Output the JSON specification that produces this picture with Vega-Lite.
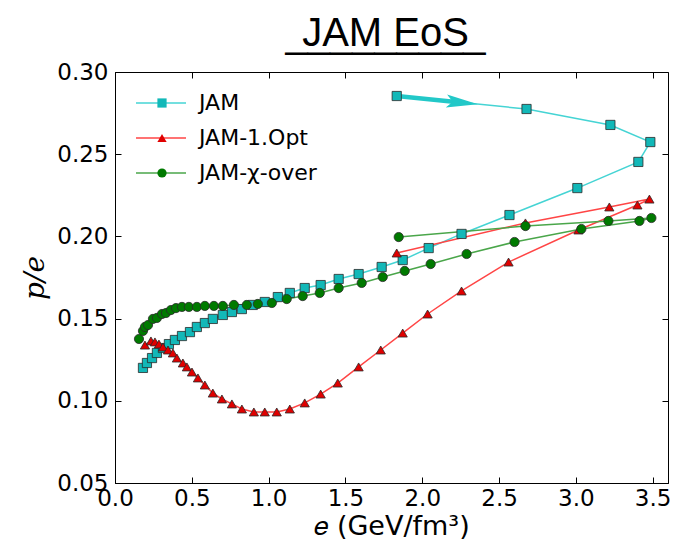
{
  "$schema": "https://vega.github.io/schema/vega-lite/v6.json",
  "width": 553,
  "height": 411,
  "autosize": {"type": "none"},
  "padding": {"left": 115, "top": 72, "right": 8, "bottom": 65},
  "background": "white",
  "title": {
    "text": "JAM EoS",
    "subtitle": "_________",
    "font": "Liberation Sans",
    "fontSize": 40,
    "fontWeight": "normal",
    "color": "black",
    "subtitleFont": "Liberation Sans",
    "subtitleFontSize": 40,
    "subtitleColor": "black",
    "subtitlePadding": -39,
    "anchor": "middle",
    "dx": -6,
    "offset": 6
  },
  "config": {
    "view": {"stroke": "black", "strokeWidth": 1},
    "axis": {
      "labelFont": "DejaVu Sans",
      "labelFontSize": 23,
      "labelColor": "black",
      "labelFlush": false,
      "tickColor": "black",
      "domainColor": "black",
      "grid": false,
      "tickSize": -6,
      "labelPadding": 13
    },
    "legend": {
      "labelFont": "DejaVu Sans",
      "labelFontSize": 22,
      "labelColor": "black",
      "title": null,
      "padding": 0,
      "rowPadding": 13
    }
  },
  "datasets": {
    "curves": [
      {"series": "JAM", "order": 1, "e": 0.182, "pe": 0.1200},
      {"series": "JAM", "order": 2, "e": 0.208, "pe": 0.1230},
      {"series": "JAM", "order": 3, "e": 0.241, "pe": 0.1260},
      {"series": "JAM", "order": 4, "e": 0.273, "pe": 0.1291},
      {"series": "JAM", "order": 5, "e": 0.312, "pe": 0.1321},
      {"series": "JAM", "order": 6, "e": 0.351, "pe": 0.1345},
      {"series": "JAM", "order": 7, "e": 0.390, "pe": 0.1370},
      {"series": "JAM", "order": 8, "e": 0.436, "pe": 0.1394},
      {"series": "JAM", "order": 9, "e": 0.488, "pe": 0.1418},
      {"series": "JAM", "order": 10, "e": 0.533, "pe": 0.1449},
      {"series": "JAM", "order": 11, "e": 0.585, "pe": 0.1473},
      {"series": "JAM", "order": 12, "e": 0.637, "pe": 0.1498},
      {"series": "JAM", "order": 13, "e": 0.702, "pe": 0.1522},
      {"series": "JAM", "order": 14, "e": 0.761, "pe": 0.1540},
      {"series": "JAM", "order": 15, "e": 0.826, "pe": 0.1558},
      {"series": "JAM", "order": 16, "e": 0.897, "pe": 0.1583},
      {"series": "JAM", "order": 17, "e": 0.975, "pe": 0.1601},
      {"series": "JAM", "order": 18, "e": 1.060, "pe": 0.1631},
      {"series": "JAM", "order": 19, "e": 1.138, "pe": 0.1656},
      {"series": "JAM", "order": 20, "e": 1.235, "pe": 0.1686},
      {"series": "JAM", "order": 21, "e": 1.339, "pe": 0.1704},
      {"series": "JAM", "order": 22, "e": 1.456, "pe": 0.1741},
      {"series": "JAM", "order": 23, "e": 1.586, "pe": 0.1771},
      {"series": "JAM", "order": 24, "e": 1.736, "pe": 0.1814},
      {"series": "JAM", "order": 25, "e": 1.873, "pe": 0.1856},
      {"series": "JAM", "order": 26, "e": 2.042, "pe": 0.1929},
      {"series": "JAM", "order": 27, "e": 2.256, "pe": 0.2015},
      {"series": "JAM", "order": 28, "e": 2.568, "pe": 0.2130},
      {"series": "JAM", "order": 29, "e": 3.010, "pe": 0.2294},
      {"series": "JAM", "order": 30, "e": 3.407, "pe": 0.2453},
      {"series": "JAM", "order": 31, "e": 3.485, "pe": 0.2574},
      {"series": "JAM", "order": 32, "e": 3.225, "pe": 0.2678},
      {"series": "JAM", "order": 33, "e": 2.679, "pe": 0.2775},
      {"series": "JAM", "order": 34, "e": 1.834, "pe": 0.2854},
      {"series": "JAM-1.Opt", "order": 1, "e": 0.195, "pe": 0.1339},
      {"series": "JAM-1.Opt", "order": 2, "e": 0.234, "pe": 0.1364},
      {"series": "JAM-1.Opt", "order": 3, "e": 0.260, "pe": 0.1358},
      {"series": "JAM-1.Opt", "order": 4, "e": 0.286, "pe": 0.1345},
      {"series": "JAM-1.Opt", "order": 5, "e": 0.312, "pe": 0.1327},
      {"series": "JAM-1.Opt", "order": 6, "e": 0.345, "pe": 0.1309},
      {"series": "JAM-1.Opt", "order": 7, "e": 0.377, "pe": 0.1291},
      {"series": "JAM-1.Opt", "order": 8, "e": 0.403, "pe": 0.1260},
      {"series": "JAM-1.Opt", "order": 9, "e": 0.442, "pe": 0.1230},
      {"series": "JAM-1.Opt", "order": 10, "e": 0.468, "pe": 0.1206},
      {"series": "JAM-1.Opt", "order": 11, "e": 0.501, "pe": 0.1175},
      {"series": "JAM-1.Opt", "order": 12, "e": 0.540, "pe": 0.1139},
      {"series": "JAM-1.Opt", "order": 13, "e": 0.585, "pe": 0.1096},
      {"series": "JAM-1.Opt", "order": 14, "e": 0.637, "pe": 0.1047},
      {"series": "JAM-1.Opt", "order": 15, "e": 0.696, "pe": 0.1011},
      {"series": "JAM-1.Opt", "order": 16, "e": 0.761, "pe": 0.0981},
      {"series": "JAM-1.Opt", "order": 17, "e": 0.826, "pe": 0.0950},
      {"series": "JAM-1.Opt", "order": 18, "e": 0.904, "pe": 0.0932},
      {"series": "JAM-1.Opt", "order": 19, "e": 0.975, "pe": 0.0932},
      {"series": "JAM-1.Opt", "order": 20, "e": 1.053, "pe": 0.0932},
      {"series": "JAM-1.Opt", "order": 21, "e": 1.138, "pe": 0.0950},
      {"series": "JAM-1.Opt", "order": 22, "e": 1.235, "pe": 0.0987},
      {"series": "JAM-1.Opt", "order": 23, "e": 1.339, "pe": 0.1041},
      {"series": "JAM-1.Opt", "order": 24, "e": 1.450, "pe": 0.1108},
      {"series": "JAM-1.Opt", "order": 25, "e": 1.586, "pe": 0.1206},
      {"series": "JAM-1.Opt", "order": 26, "e": 1.730, "pe": 0.1309},
      {"series": "JAM-1.Opt", "order": 27, "e": 1.873, "pe": 0.1412},
      {"series": "JAM-1.Opt", "order": 28, "e": 2.035, "pe": 0.1528},
      {"series": "JAM-1.Opt", "order": 29, "e": 2.256, "pe": 0.1668},
      {"series": "JAM-1.Opt", "order": 30, "e": 2.562, "pe": 0.1844},
      {"series": "JAM-1.Opt", "order": 31, "e": 3.017, "pe": 0.2039},
      {"series": "JAM-1.Opt", "order": 32, "e": 3.401, "pe": 0.2191},
      {"series": "JAM-1.Opt", "order": 33, "e": 3.479, "pe": 0.2227},
      {"series": "JAM-1.Opt", "order": 34, "e": 3.218, "pe": 0.2179},
      {"series": "JAM-1.Opt", "order": 35, "e": 2.672, "pe": 0.2082},
      {"series": "JAM-1.Opt", "order": 36, "e": 1.834, "pe": 0.1899},
      {"series": "JAM-χ-over", "order": 1, "e": 0.156, "pe": 0.1376},
      {"series": "JAM-χ-over", "order": 2, "e": 0.182, "pe": 0.1425},
      {"series": "JAM-χ-over", "order": 3, "e": 0.195, "pe": 0.1449},
      {"series": "JAM-χ-over", "order": 4, "e": 0.215, "pe": 0.1461},
      {"series": "JAM-χ-over", "order": 5, "e": 0.247, "pe": 0.1498},
      {"series": "JAM-χ-over", "order": 6, "e": 0.273, "pe": 0.1504},
      {"series": "JAM-χ-over", "order": 7, "e": 0.306, "pe": 0.1528},
      {"series": "JAM-χ-over", "order": 8, "e": 0.332, "pe": 0.1534},
      {"series": "JAM-χ-over", "order": 9, "e": 0.364, "pe": 0.1552},
      {"series": "JAM-χ-over", "order": 10, "e": 0.397, "pe": 0.1564},
      {"series": "JAM-χ-over", "order": 11, "e": 0.436, "pe": 0.1571},
      {"series": "JAM-χ-over", "order": 12, "e": 0.481, "pe": 0.1571},
      {"series": "JAM-χ-over", "order": 13, "e": 0.533, "pe": 0.1571},
      {"series": "JAM-χ-over", "order": 14, "e": 0.585, "pe": 0.1577},
      {"series": "JAM-χ-over", "order": 15, "e": 0.644, "pe": 0.1577},
      {"series": "JAM-χ-over", "order": 16, "e": 0.702, "pe": 0.1577},
      {"series": "JAM-χ-over", "order": 17, "e": 0.774, "pe": 0.1583},
      {"series": "JAM-χ-over", "order": 18, "e": 0.858, "pe": 0.1583},
      {"series": "JAM-χ-over", "order": 19, "e": 0.930, "pe": 0.1589},
      {"series": "JAM-χ-over", "order": 20, "e": 1.021, "pe": 0.1595},
      {"series": "JAM-χ-over", "order": 21, "e": 1.118, "pe": 0.1619},
      {"series": "JAM-χ-over", "order": 22, "e": 1.222, "pe": 0.1637},
      {"series": "JAM-χ-over", "order": 23, "e": 1.333, "pe": 0.1656},
      {"series": "JAM-χ-over", "order": 24, "e": 1.456, "pe": 0.1686},
      {"series": "JAM-χ-over", "order": 25, "e": 1.606, "pe": 0.1717},
      {"series": "JAM-χ-over", "order": 26, "e": 1.743, "pe": 0.1753},
      {"series": "JAM-χ-over", "order": 27, "e": 1.886, "pe": 0.1790},
      {"series": "JAM-χ-over", "order": 28, "e": 2.055, "pe": 0.1832},
      {"series": "JAM-χ-over", "order": 29, "e": 2.289, "pe": 0.1893},
      {"series": "JAM-χ-over", "order": 30, "e": 2.601, "pe": 0.1966},
      {"series": "JAM-χ-over", "order": 31, "e": 3.036, "pe": 0.2045},
      {"series": "JAM-χ-over", "order": 32, "e": 3.414, "pe": 0.2094},
      {"series": "JAM-χ-over", "order": 33, "e": 3.492, "pe": 0.2112},
      {"series": "JAM-χ-over", "order": 34, "e": 3.212, "pe": 0.2094},
      {"series": "JAM-χ-over", "order": 35, "e": 2.672, "pe": 0.2063},
      {"series": "JAM-χ-over", "order": 36, "e": 1.847, "pe": 0.1996}
    ],
    "arrowShaft": [
      {"order": 1, "e": 1.834, "pe": 0.2854},
      {"order": 2, "e": 2.22, "pe": 0.2818}
    ],
    "arrowHead": [
      {"e": 2.26, "pe": 0.2814}
    ]
  },
  "resolve": {"axis": {"x": "independent", "y": "independent"}},
  "layer": [
    {
      "data": {"name": "curves"},
      "mark": {"type": "line", "strokeWidth": 1.5, "clip": true},
      "encoding": {
        "x": {
          "field": "e", "type": "quantitative",
          "scale": {"domain": [0, 3.6], "nice": false, "zero": false},
          "axis": {
            "orient": "bottom", "values": [0, 0.5, 1, 1.5, 2, 2.5, 3, 3.5], "format": ".1f",
            "labelPadding": 10,
            "title": "𝑒 (GeV/fm³)", "titleFont": "DejaVu Sans", "titleFontSize": 27,
            "titleFontWeight": "normal", "titleColor": "black", "titlePadding": 3
          }
        },
        "y": {
          "field": "pe", "type": "quantitative",
          "scale": {"domain": [0.05, 0.30], "nice": false, "zero": false},
          "axis": {
            "orient": "left", "values": [0.05, 0.1, 0.15, 0.2, 0.25, 0.3], "format": ".2f",
            "title": "p/e", "titleFont": "DejaVu Serif", "titleFontStyle": "italic",
            "titleFontSize": 28, "titleFontWeight": "normal", "titleColor": "black", "titlePadding": 7
          }
        },
        "stroke": {
          "field": "series", "type": "nominal",
          "scale": {"domain": ["JAM", "JAM-1.Opt", "JAM-χ-over"], "range": ["#45d4d4", "#ff4545", "#4aa64a"]},
          "legend": {
            "orient": "none", "legendX": 35, "legendY": 20,
            "symbolType": "M-2.5,0H2.5", "symbolSize": 400, "symbolStrokeWidth": 1.5,
            "labelExpr": "''", "labelOffset": 0
          }
        },
        "order": {"field": "order", "type": "quantitative"}
      }
    },
    {
      "data": {"name": "arrowShaft"},
      "mark": {"type": "line", "strokeWidth": 4.5, "color": "#22c8c8"},
      "encoding": {
        "x": {"field": "e", "type": "quantitative", "axis": null},
        "y": {"field": "pe", "type": "quantitative", "axis": null},
        "order": {"field": "order", "type": "quantitative"}
      }
    },
    {
      "data": {"name": "arrowHead"},
      "mark": {"type": "point", "filled": true, "color": "#22c8c8", "opacity": 1,
               "shape": "M-1,-0.42L1,0L-1,0.42L-0.6,0Z", "size": 1000, "angle": 5.7},
      "encoding": {
        "x": {"field": "e", "type": "quantitative", "axis": null},
        "y": {"field": "pe", "type": "quantitative", "axis": null}
      }
    },
    {
      "data": {"name": "curves"},
      "mark": {"type": "point", "filled": true, "opacity": 1, "stroke": "#2a2a2a", "strokeWidth": 0.8, "size": 85},
      "encoding": {
        "x": {
          "field": "e", "type": "quantitative",
          "axis": {"orient": "top", "values": [0, 0.5, 1, 1.5, 2, 2.5, 3, 3.5], "labels": false, "title": null, "domain": false}
        },
        "y": {
          "field": "pe", "type": "quantitative",
          "axis": {"orient": "right", "values": [0.05, 0.1, 0.15, 0.2, 0.25, 0.3], "labels": false, "title": null, "domain": false}
        },
        "fill": {
          "field": "series", "type": "nominal",
          "scale": {"range": ["#12b8b8", "#e00000", "#007a00"]},
          "legend": {
            "orient": "none", "legendX": 36, "legendY": 20,
            "symbolStrokeColor": "#2a2a2a", "symbolStrokeWidth": 0.8, "symbolSize": 85,
            "labelOffset": 26
          }
        },
        "shape": {
          "field": "series", "type": "nominal",
          "scale": {"range": ["square", "triangle-up", "circle"]},
          "legend": {
            "orient": "none", "legendX": 36, "legendY": 20,
            "symbolStrokeColor": "#2a2a2a", "symbolStrokeWidth": 0.8, "symbolSize": 85,
            "labelOffset": 26
          }
        }
      }
    }
  ]
}
